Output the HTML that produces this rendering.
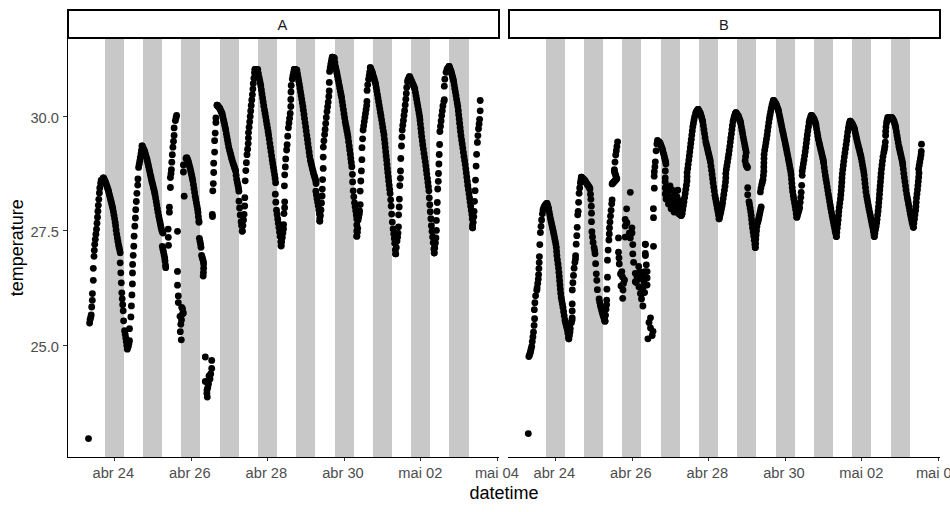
<!DOCTYPE html><html><head><meta charset="utf-8"><style>html,body{margin:0;padding:0;background:#fff}svg{display:block}text{font-family:"Liberation Sans",sans-serif}</style></head><body>
<svg width="950" height="512" viewBox="0 0 950 512">
<rect width="950" height="512" fill="#fff"/>
<g fill="#c8c8c8" shape-rendering="crispEdges">
<rect x="105" y="38" width="19" height="419"/>
<rect x="143" y="38" width="19" height="419"/>
<rect x="181" y="38" width="19" height="419"/>
<rect x="220" y="38" width="19" height="419"/>
<rect x="258" y="38" width="19" height="419"/>
<rect x="296" y="38" width="19" height="419"/>
<rect x="335" y="38" width="19" height="419"/>
<rect x="373" y="38" width="19" height="419"/>
<rect x="411" y="38" width="19" height="419"/>
<rect x="449" y="38" width="20" height="419"/>
<rect x="546" y="38" width="19" height="419"/>
<rect x="584" y="38" width="19" height="419"/>
<rect x="622" y="38" width="19" height="419"/>
<rect x="661" y="38" width="19" height="419"/>
<rect x="699" y="38" width="19" height="419"/>
<rect x="737" y="38" width="19" height="419"/>
<rect x="776" y="38" width="19" height="419"/>
<rect x="814" y="38" width="19" height="419"/>
<rect x="852" y="38" width="19" height="419"/>
<rect x="891" y="38" width="19" height="419"/>
</g>
<g fill="#000">
<circle cx="88.5" cy="438.6" r="3.42"/>
<circle cx="177.5" cy="231.3" r="3.42"/>
<circle cx="177.5" cy="271.4" r="3.42"/>
<circle cx="177.5" cy="285.2" r="3.42"/>
<circle cx="178.3" cy="296.0" r="3.42"/>
<circle cx="178.3" cy="302.6" r="3.42"/>
<circle cx="181.7" cy="307.3" r="3.42"/>
<circle cx="182.5" cy="308.7" r="3.42"/>
<circle cx="183.4" cy="312.9" r="3.42"/>
<circle cx="182.5" cy="314.0" r="3.42"/>
<circle cx="180.0" cy="316.3" r="3.42"/>
<circle cx="181.5" cy="320.0" r="3.42"/>
<circle cx="180.8" cy="324.3" r="3.42"/>
<circle cx="180.3" cy="331.7" r="3.42"/>
<circle cx="181.3" cy="339.8" r="3.42"/>
<circle cx="184.2" cy="196.2" r="3.42"/>
<circle cx="205.3" cy="357.0" r="3.42"/>
<circle cx="211.7" cy="360.4" r="3.42"/>
<circle cx="211.7" cy="368.5" r="3.42"/>
<circle cx="210.7" cy="373.9" r="3.42"/>
<circle cx="210.0" cy="378.9" r="3.42"/>
<circle cx="205.3" cy="381.5" r="3.42"/>
<circle cx="207.8" cy="387.4" r="3.42"/>
<circle cx="206.9" cy="393.3" r="3.42"/>
<circle cx="207.3" cy="397.1" r="3.42"/>
<circle cx="209.0" cy="376.0" r="3.42"/>
<circle cx="208.5" cy="384.0" r="3.42"/>
<circle cx="207.0" cy="390.0" r="3.42"/>
<circle cx="212.3" cy="214.4" r="3.42"/>
<circle cx="212.5" cy="216.5" r="3.42"/>
<circle cx="213.7" cy="172.5" r="3.42"/>
<circle cx="213.7" cy="163.2" r="3.42"/>
<circle cx="214.6" cy="152.1" r="3.42"/>
<circle cx="214.6" cy="140.7" r="3.42"/>
<circle cx="215.2" cy="133.1" r="3.42"/>
<circle cx="215.9" cy="122.5" r="3.42"/>
<circle cx="215.9" cy="118.0" r="3.42"/>
<circle cx="217.1" cy="105.2" r="3.42"/>
<circle cx="89.6" cy="323.1" r="3.42"/>
<circle cx="90.1" cy="319.6" r="3.42"/>
<circle cx="90.7" cy="317.3" r="3.42"/>
<circle cx="91.2" cy="315.0" r="3.42"/>
<circle cx="91.7" cy="307.0" r="3.42"/>
<circle cx="92.3" cy="300.3" r="3.42"/>
<circle cx="92.4" cy="293.6" r="3.42"/>
<circle cx="93.3" cy="280.3" r="3.42"/>
<circle cx="93.3" cy="268.3" r="3.42"/>
<circle cx="94.0" cy="256.3" r="3.42"/>
<circle cx="94.3" cy="250.3" r="3.42"/>
<circle cx="94.7" cy="244.3" r="3.42"/>
<circle cx="95.3" cy="239.3" r="3.42"/>
<circle cx="95.9" cy="234.2" r="3.42"/>
<circle cx="96.5" cy="229.2" r="3.42"/>
<circle cx="97.0" cy="223.2" r="3.42"/>
<circle cx="97.5" cy="217.2" r="3.42"/>
<circle cx="97.9" cy="211.2" r="3.42"/>
<circle cx="98.3" cy="205.3" r="3.42"/>
<circle cx="98.8" cy="199.3" r="3.42"/>
<circle cx="99.4" cy="193.0" r="3.42"/>
<circle cx="99.8" cy="188.0" r="3.42"/>
<circle cx="100.6" cy="183.1" r="3.42"/>
<circle cx="101.2" cy="180.1" r="3.42"/>
<circle cx="103.4" cy="177.9" r="3.42"/>
<circle cx="103.4" cy="177.9" r="3.42"/>
<circle cx="104.0" cy="179.1" r="3.42"/>
<circle cx="104.6" cy="180.2" r="3.42"/>
<circle cx="105.2" cy="181.4" r="3.42"/>
<circle cx="105.7" cy="182.6" r="3.42"/>
<circle cx="106.3" cy="184.4" r="3.42"/>
<circle cx="106.9" cy="186.1" r="3.42"/>
<circle cx="107.5" cy="187.9" r="3.42"/>
<circle cx="108.1" cy="189.7" r="3.42"/>
<circle cx="108.6" cy="191.4" r="3.42"/>
<circle cx="109.2" cy="193.9" r="3.42"/>
<circle cx="109.8" cy="196.3" r="3.42"/>
<circle cx="110.4" cy="198.7" r="3.42"/>
<circle cx="111.0" cy="201.1" r="3.42"/>
<circle cx="111.6" cy="203.5" r="3.42"/>
<circle cx="112.2" cy="205.9" r="3.42"/>
<circle cx="112.8" cy="208.4" r="3.42"/>
<circle cx="113.4" cy="211.8" r="3.42"/>
<circle cx="114.0" cy="215.3" r="3.42"/>
<circle cx="114.6" cy="218.8" r="3.42"/>
<circle cx="115.2" cy="222.3" r="3.42"/>
<circle cx="115.6" cy="225.8" r="3.42"/>
<circle cx="116.1" cy="230.0" r="3.42"/>
<circle cx="116.7" cy="234.1" r="3.42"/>
<circle cx="117.3" cy="237.7" r="3.42"/>
<circle cx="117.9" cy="241.2" r="3.42"/>
<circle cx="118.5" cy="244.7" r="3.42"/>
<circle cx="119.1" cy="247.4" r="3.42"/>
<circle cx="119.7" cy="250.1" r="3.42"/>
<circle cx="120.2" cy="252.8" r="3.42"/>
<circle cx="120.2" cy="262.8" r="3.42"/>
<circle cx="120.8" cy="272.8" r="3.42"/>
<circle cx="121.3" cy="282.8" r="3.42"/>
<circle cx="121.8" cy="292.8" r="3.42"/>
<circle cx="122.2" cy="298.8" r="3.42"/>
<circle cx="122.7" cy="304.7" r="3.42"/>
<circle cx="123.2" cy="310.8" r="3.42"/>
<circle cx="123.6" cy="320.8" r="3.42"/>
<circle cx="124.6" cy="330.7" r="3.42"/>
<circle cx="125.2" cy="334.3" r="3.42"/>
<circle cx="125.8" cy="337.9" r="3.42"/>
<circle cx="126.3" cy="341.4" r="3.42"/>
<circle cx="126.8" cy="345.4" r="3.42"/>
<circle cx="127.3" cy="349.2" r="3.42"/>
<circle cx="128.3" cy="346.6" r="3.42"/>
<circle cx="128.9" cy="343.6" r="3.42"/>
<circle cx="129.5" cy="340.7" r="3.42"/>
<circle cx="129.5" cy="328.7" r="3.42"/>
<circle cx="130.9" cy="316.9" r="3.42"/>
<circle cx="131.4" cy="305.9" r="3.42"/>
<circle cx="131.9" cy="294.9" r="3.42"/>
<circle cx="132.4" cy="283.9" r="3.42"/>
<circle cx="132.5" cy="272.9" r="3.42"/>
<circle cx="132.6" cy="264.4" r="3.42"/>
<circle cx="133.2" cy="255.3" r="3.42"/>
<circle cx="133.8" cy="246.2" r="3.42"/>
<circle cx="134.1" cy="236.2" r="3.42"/>
<circle cx="134.8" cy="226.2" r="3.42"/>
<circle cx="135.4" cy="218.0" r="3.42"/>
<circle cx="135.7" cy="209.7" r="3.42"/>
<circle cx="136.3" cy="201.5" r="3.42"/>
<circle cx="136.9" cy="193.3" r="3.42"/>
<circle cx="137.7" cy="185.1" r="3.42"/>
<circle cx="137.9" cy="178.9" r="3.42"/>
<circle cx="138.6" cy="167.4" r="3.42"/>
<circle cx="139.2" cy="164.2" r="3.42"/>
<circle cx="139.8" cy="160.9" r="3.42"/>
<circle cx="140.4" cy="157.3" r="3.42"/>
<circle cx="141.0" cy="153.8" r="3.42"/>
<circle cx="141.5" cy="150.2" r="3.42"/>
<circle cx="142.1" cy="145.9" r="3.42"/>
<circle cx="142.1" cy="145.9" r="3.42"/>
<circle cx="142.7" cy="147.2" r="3.42"/>
<circle cx="143.3" cy="148.4" r="3.42"/>
<circle cx="143.9" cy="149.7" r="3.42"/>
<circle cx="144.5" cy="151.0" r="3.42"/>
<circle cx="144.9" cy="152.4" r="3.42"/>
<circle cx="145.5" cy="154.4" r="3.42"/>
<circle cx="146.1" cy="156.4" r="3.42"/>
<circle cx="146.7" cy="158.5" r="3.42"/>
<circle cx="147.3" cy="160.5" r="3.42"/>
<circle cx="147.9" cy="163.3" r="3.42"/>
<circle cx="148.5" cy="166.0" r="3.42"/>
<circle cx="149.1" cy="168.8" r="3.42"/>
<circle cx="149.7" cy="171.5" r="3.42"/>
<circle cx="150.3" cy="174.3" r="3.42"/>
<circle cx="150.9" cy="177.0" r="3.42"/>
<circle cx="151.5" cy="179.7" r="3.42"/>
<circle cx="152.1" cy="182.2" r="3.42"/>
<circle cx="152.7" cy="184.6" r="3.42"/>
<circle cx="153.3" cy="187.0" r="3.42"/>
<circle cx="153.9" cy="189.5" r="3.42"/>
<circle cx="154.5" cy="191.9" r="3.42"/>
<circle cx="155.0" cy="194.4" r="3.42"/>
<circle cx="155.6" cy="198.0" r="3.42"/>
<circle cx="156.2" cy="201.5" r="3.42"/>
<circle cx="156.8" cy="205.1" r="3.42"/>
<circle cx="157.4" cy="208.7" r="3.42"/>
<circle cx="158.0" cy="212.3" r="3.42"/>
<circle cx="158.7" cy="215.9" r="3.42"/>
<circle cx="159.3" cy="218.8" r="3.42"/>
<circle cx="159.9" cy="221.8" r="3.42"/>
<circle cx="160.5" cy="224.7" r="3.42"/>
<circle cx="161.1" cy="227.7" r="3.42"/>
<circle cx="161.8" cy="230.6" r="3.42"/>
<circle cx="162.4" cy="231.9" r="3.42"/>
<circle cx="163.0" cy="233.0" r="3.42"/>
<circle cx="162.3" cy="246.3" r="3.42"/>
<circle cx="162.9" cy="249.2" r="3.42"/>
<circle cx="163.5" cy="252.0" r="3.42"/>
<circle cx="164.1" cy="255.0" r="3.42"/>
<circle cx="164.7" cy="258.0" r="3.42"/>
<circle cx="165.0" cy="261.0" r="3.42"/>
<circle cx="165.5" cy="265.2" r="3.42"/>
<circle cx="165.7" cy="267.7" r="3.42"/>
<circle cx="168.5" cy="245.3" r="3.42"/>
<circle cx="168.3" cy="237.3" r="3.42"/>
<circle cx="168.2" cy="229.1" r="3.42"/>
<circle cx="169.4" cy="212.2" r="3.42"/>
<circle cx="169.4" cy="207.2" r="3.42"/>
<circle cx="170.4" cy="187.5" r="3.42"/>
<circle cx="170.4" cy="177.5" r="3.42"/>
<circle cx="171.0" cy="173.6" r="3.42"/>
<circle cx="171.4" cy="169.7" r="3.42"/>
<circle cx="171.8" cy="162.2" r="3.42"/>
<circle cx="172.3" cy="154.7" r="3.42"/>
<circle cx="172.9" cy="147.2" r="3.42"/>
<circle cx="173.5" cy="141.3" r="3.42"/>
<circle cx="174.1" cy="135.4" r="3.42"/>
<circle cx="174.1" cy="127.9" r="3.42"/>
<circle cx="175.4" cy="120.6" r="3.42"/>
<circle cx="176.1" cy="117.5" r="3.42"/>
<circle cx="176.6" cy="115.3" r="3.42"/>
<circle cx="183.4" cy="172.0" r="3.42"/>
<circle cx="183.4" cy="165.0" r="3.42"/>
<circle cx="186.0" cy="158.5" r="3.42"/>
<circle cx="186.6" cy="157.6" r="3.42"/>
<circle cx="187.0" cy="158.2" r="3.42"/>
<circle cx="187.6" cy="159.7" r="3.42"/>
<circle cx="188.2" cy="161.2" r="3.42"/>
<circle cx="188.7" cy="162.8" r="3.42"/>
<circle cx="189.3" cy="165.2" r="3.42"/>
<circle cx="189.9" cy="167.6" r="3.42"/>
<circle cx="190.5" cy="170.0" r="3.42"/>
<circle cx="191.1" cy="172.7" r="3.42"/>
<circle cx="191.7" cy="175.4" r="3.42"/>
<circle cx="192.3" cy="178.1" r="3.42"/>
<circle cx="192.8" cy="180.8" r="3.42"/>
<circle cx="193.4" cy="184.6" r="3.42"/>
<circle cx="194.0" cy="188.5" r="3.42"/>
<circle cx="194.6" cy="192.4" r="3.42"/>
<circle cx="195.2" cy="196.3" r="3.42"/>
<circle cx="195.8" cy="199.5" r="3.42"/>
<circle cx="196.4" cy="202.8" r="3.42"/>
<circle cx="197.0" cy="206.0" r="3.42"/>
<circle cx="197.6" cy="209.2" r="3.42"/>
<circle cx="198.0" cy="212.5" r="3.42"/>
<circle cx="198.4" cy="216.7" r="3.42"/>
<circle cx="198.9" cy="220.9" r="3.42"/>
<circle cx="199.0" cy="222.3" r="3.42"/>
<circle cx="199.4" cy="238.3" r="3.42"/>
<circle cx="200.0" cy="241.3" r="3.42"/>
<circle cx="200.6" cy="244.3" r="3.42"/>
<circle cx="201.0" cy="247.3" r="3.42"/>
<circle cx="201.6" cy="255.3" r="3.42"/>
<circle cx="202.2" cy="257.4" r="3.42"/>
<circle cx="202.8" cy="259.6" r="3.42"/>
<circle cx="203.4" cy="261.8" r="3.42"/>
<circle cx="203.6" cy="264.0" r="3.42"/>
<circle cx="203.6" cy="268.2" r="3.42"/>
<circle cx="203.4" cy="272.4" r="3.42"/>
<circle cx="203.2" cy="276.1" r="3.42"/>
<circle cx="213.3" cy="183.6" r="3.42"/>
<circle cx="212.8" cy="190.8" r="3.42"/>
<circle cx="217.1" cy="105.2" r="3.42"/>
<circle cx="217.7" cy="105.9" r="3.42"/>
<circle cx="218.3" cy="106.6" r="3.42"/>
<circle cx="218.9" cy="107.3" r="3.42"/>
<circle cx="219.5" cy="108.0" r="3.42"/>
<circle cx="219.9" cy="108.8" r="3.42"/>
<circle cx="220.5" cy="110.1" r="3.42"/>
<circle cx="221.1" cy="111.4" r="3.42"/>
<circle cx="221.7" cy="112.7" r="3.42"/>
<circle cx="222.2" cy="114.0" r="3.42"/>
<circle cx="222.8" cy="116.7" r="3.42"/>
<circle cx="223.4" cy="119.4" r="3.42"/>
<circle cx="224.0" cy="122.0" r="3.42"/>
<circle cx="224.6" cy="124.7" r="3.42"/>
<circle cx="225.2" cy="127.4" r="3.42"/>
<circle cx="225.7" cy="130.0" r="3.42"/>
<circle cx="226.3" cy="133.4" r="3.42"/>
<circle cx="226.9" cy="136.8" r="3.42"/>
<circle cx="227.5" cy="140.2" r="3.42"/>
<circle cx="228.1" cy="143.6" r="3.42"/>
<circle cx="228.7" cy="146.9" r="3.42"/>
<circle cx="229.6" cy="150.3" r="3.42"/>
<circle cx="230.2" cy="152.6" r="3.42"/>
<circle cx="230.8" cy="155.0" r="3.42"/>
<circle cx="231.4" cy="157.4" r="3.42"/>
<circle cx="232.0" cy="159.7" r="3.42"/>
<circle cx="232.7" cy="162.1" r="3.42"/>
<circle cx="233.3" cy="163.9" r="3.42"/>
<circle cx="233.9" cy="165.6" r="3.42"/>
<circle cx="234.5" cy="167.4" r="3.42"/>
<circle cx="235.1" cy="169.2" r="3.42"/>
<circle cx="235.6" cy="171.0" r="3.42"/>
<circle cx="236.1" cy="175.2" r="3.42"/>
<circle cx="236.7" cy="179.3" r="3.42"/>
<circle cx="237.3" cy="182.3" r="3.42"/>
<circle cx="237.9" cy="185.2" r="3.42"/>
<circle cx="238.5" cy="188.2" r="3.42"/>
<circle cx="238.9" cy="191.2" r="3.42"/>
<circle cx="239.0" cy="201.2" r="3.42"/>
<circle cx="239.6" cy="208.0" r="3.42"/>
<circle cx="240.2" cy="214.9" r="3.42"/>
<circle cx="241.1" cy="221.7" r="3.42"/>
<circle cx="241.6" cy="225.5" r="3.42"/>
<circle cx="242.2" cy="231.0" r="3.42"/>
<circle cx="242.3" cy="231.2" r="3.42"/>
<circle cx="242.9" cy="225.6" r="3.42"/>
<circle cx="243.5" cy="219.9" r="3.42"/>
<circle cx="244.1" cy="214.3" r="3.42"/>
<circle cx="244.7" cy="206.0" r="3.42"/>
<circle cx="244.8" cy="197.7" r="3.42"/>
<circle cx="245.2" cy="180.8" r="3.42"/>
<circle cx="245.8" cy="170.6" r="3.42"/>
<circle cx="246.4" cy="162.7" r="3.42"/>
<circle cx="247.0" cy="154.7" r="3.42"/>
<circle cx="247.6" cy="149.2" r="3.42"/>
<circle cx="248.2" cy="143.6" r="3.42"/>
<circle cx="248.4" cy="138.1" r="3.42"/>
<circle cx="248.5" cy="132.6" r="3.42"/>
<circle cx="249.1" cy="127.2" r="3.42"/>
<circle cx="249.7" cy="121.8" r="3.42"/>
<circle cx="250.2" cy="116.4" r="3.42"/>
<circle cx="250.7" cy="111.0" r="3.42"/>
<circle cx="251.2" cy="105.5" r="3.42"/>
<circle cx="251.8" cy="100.0" r="3.42"/>
<circle cx="252.4" cy="94.6" r="3.42"/>
<circle cx="252.9" cy="89.1" r="3.42"/>
<circle cx="253.3" cy="83.6" r="3.42"/>
<circle cx="253.9" cy="78.2" r="3.42"/>
<circle cx="254.5" cy="72.7" r="3.42"/>
<circle cx="255.0" cy="69.3" r="3.42"/>
<circle cx="255.0" cy="69.3" r="3.42"/>
<circle cx="255.6" cy="69.3" r="3.42"/>
<circle cx="256.2" cy="69.4" r="3.42"/>
<circle cx="256.8" cy="69.4" r="3.42"/>
<circle cx="257.4" cy="69.5" r="3.42"/>
<circle cx="257.8" cy="69.7" r="3.42"/>
<circle cx="258.4" cy="73.6" r="3.42"/>
<circle cx="259.1" cy="77.5" r="3.42"/>
<circle cx="259.7" cy="80.3" r="3.42"/>
<circle cx="260.3" cy="83.1" r="3.42"/>
<circle cx="260.8" cy="86.0" r="3.42"/>
<circle cx="261.4" cy="90.0" r="3.42"/>
<circle cx="262.0" cy="94.0" r="3.42"/>
<circle cx="262.6" cy="98.0" r="3.42"/>
<circle cx="263.2" cy="102.0" r="3.42"/>
<circle cx="263.8" cy="106.0" r="3.42"/>
<circle cx="264.5" cy="110.0" r="3.42"/>
<circle cx="265.1" cy="113.5" r="3.42"/>
<circle cx="265.7" cy="117.1" r="3.42"/>
<circle cx="266.3" cy="120.7" r="3.42"/>
<circle cx="266.9" cy="124.3" r="3.42"/>
<circle cx="267.5" cy="127.8" r="3.42"/>
<circle cx="268.1" cy="131.4" r="3.42"/>
<circle cx="268.6" cy="135.0" r="3.42"/>
<circle cx="269.2" cy="139.1" r="3.42"/>
<circle cx="269.8" cy="143.3" r="3.42"/>
<circle cx="270.4" cy="147.5" r="3.42"/>
<circle cx="271.0" cy="151.6" r="3.42"/>
<circle cx="271.6" cy="155.8" r="3.42"/>
<circle cx="272.2" cy="159.9" r="3.42"/>
<circle cx="272.8" cy="163.7" r="3.42"/>
<circle cx="273.4" cy="167.4" r="3.42"/>
<circle cx="274.0" cy="171.1" r="3.42"/>
<circle cx="274.6" cy="174.8" r="3.42"/>
<circle cx="275.1" cy="178.5" r="3.42"/>
<circle cx="275.6" cy="182.7" r="3.42"/>
<circle cx="275.3" cy="194.2" r="3.42"/>
<circle cx="275.8" cy="202.2" r="3.42"/>
<circle cx="276.5" cy="210.2" r="3.42"/>
<circle cx="277.1" cy="214.5" r="3.42"/>
<circle cx="277.7" cy="218.9" r="3.42"/>
<circle cx="278.3" cy="223.2" r="3.42"/>
<circle cx="278.9" cy="227.6" r="3.42"/>
<circle cx="279.5" cy="232.1" r="3.42"/>
<circle cx="280.1" cy="236.6" r="3.42"/>
<circle cx="280.7" cy="241.8" r="3.42"/>
<circle cx="281.1" cy="245.6" r="3.42"/>
<circle cx="281.1" cy="246.0" r="3.42"/>
<circle cx="281.7" cy="241.7" r="3.42"/>
<circle cx="282.3" cy="237.4" r="3.42"/>
<circle cx="282.9" cy="233.1" r="3.42"/>
<circle cx="283.5" cy="228.9" r="3.42"/>
<circle cx="283.6" cy="224.6" r="3.42"/>
<circle cx="284.0" cy="213.6" r="3.42"/>
<circle cx="284.6" cy="207.7" r="3.42"/>
<circle cx="284.7" cy="201.8" r="3.42"/>
<circle cx="284.4" cy="185.8" r="3.42"/>
<circle cx="284.7" cy="174.8" r="3.42"/>
<circle cx="285.3" cy="166.9" r="3.42"/>
<circle cx="285.7" cy="158.9" r="3.42"/>
<circle cx="286.6" cy="150.0" r="3.42"/>
<circle cx="287.1" cy="144.7" r="3.42"/>
<circle cx="287.7" cy="136.2" r="3.42"/>
<circle cx="288.4" cy="127.8" r="3.42"/>
<circle cx="289.0" cy="123.0" r="3.42"/>
<circle cx="289.6" cy="118.3" r="3.42"/>
<circle cx="290.2" cy="113.5" r="3.42"/>
<circle cx="290.8" cy="106.5" r="3.42"/>
<circle cx="290.8" cy="99.5" r="3.42"/>
<circle cx="291.0" cy="92.0" r="3.42"/>
<circle cx="291.2" cy="85.5" r="3.42"/>
<circle cx="292.3" cy="79.1" r="3.42"/>
<circle cx="292.9" cy="75.7" r="3.42"/>
<circle cx="293.6" cy="72.4" r="3.42"/>
<circle cx="294.3" cy="69.3" r="3.42"/>
<circle cx="294.3" cy="69.3" r="3.42"/>
<circle cx="294.9" cy="69.5" r="3.42"/>
<circle cx="295.5" cy="69.6" r="3.42"/>
<circle cx="296.1" cy="69.8" r="3.42"/>
<circle cx="296.7" cy="70.0" r="3.42"/>
<circle cx="296.9" cy="70.5" r="3.42"/>
<circle cx="297.5" cy="74.0" r="3.42"/>
<circle cx="298.1" cy="77.5" r="3.42"/>
<circle cx="298.7" cy="80.9" r="3.42"/>
<circle cx="299.3" cy="84.2" r="3.42"/>
<circle cx="299.9" cy="87.9" r="3.42"/>
<circle cx="300.5" cy="91.7" r="3.42"/>
<circle cx="301.1" cy="95.4" r="3.42"/>
<circle cx="301.7" cy="99.1" r="3.42"/>
<circle cx="302.3" cy="102.8" r="3.42"/>
<circle cx="302.9" cy="106.6" r="3.42"/>
<circle cx="303.4" cy="110.3" r="3.42"/>
<circle cx="304.0" cy="114.5" r="3.42"/>
<circle cx="304.5" cy="118.6" r="3.42"/>
<circle cx="305.1" cy="122.8" r="3.42"/>
<circle cx="305.7" cy="127.0" r="3.42"/>
<circle cx="306.2" cy="131.1" r="3.42"/>
<circle cx="306.8" cy="135.3" r="3.42"/>
<circle cx="307.4" cy="139.4" r="3.42"/>
<circle cx="307.9" cy="143.6" r="3.42"/>
<circle cx="308.5" cy="147.8" r="3.42"/>
<circle cx="309.1" cy="151.9" r="3.42"/>
<circle cx="309.6" cy="156.1" r="3.42"/>
<circle cx="310.4" cy="160.2" r="3.42"/>
<circle cx="311.0" cy="162.7" r="3.42"/>
<circle cx="311.6" cy="165.3" r="3.42"/>
<circle cx="312.2" cy="167.8" r="3.42"/>
<circle cx="312.8" cy="170.3" r="3.42"/>
<circle cx="313.4" cy="172.9" r="3.42"/>
<circle cx="314.2" cy="175.4" r="3.42"/>
<circle cx="314.8" cy="177.4" r="3.42"/>
<circle cx="315.4" cy="179.5" r="3.42"/>
<circle cx="316.0" cy="181.5" r="3.42"/>
<circle cx="316.1" cy="183.6" r="3.42"/>
<circle cx="315.8" cy="191.1" r="3.42"/>
<circle cx="316.4" cy="194.7" r="3.42"/>
<circle cx="317.0" cy="198.4" r="3.42"/>
<circle cx="317.6" cy="202.0" r="3.42"/>
<circle cx="318.2" cy="205.7" r="3.42"/>
<circle cx="318.8" cy="209.8" r="3.42"/>
<circle cx="319.4" cy="213.9" r="3.42"/>
<circle cx="319.8" cy="218.1" r="3.42"/>
<circle cx="319.8" cy="221.1" r="3.42"/>
<circle cx="319.8" cy="221.1" r="3.42"/>
<circle cx="320.4" cy="215.5" r="3.42"/>
<circle cx="321.0" cy="210.0" r="3.42"/>
<circle cx="321.5" cy="203.0" r="3.42"/>
<circle cx="322.1" cy="196.0" r="3.42"/>
<circle cx="322.3" cy="189.1" r="3.42"/>
<circle cx="322.6" cy="179.6" r="3.42"/>
<circle cx="323.2" cy="168.4" r="3.42"/>
<circle cx="323.2" cy="157.1" r="3.42"/>
<circle cx="323.3" cy="147.1" r="3.42"/>
<circle cx="323.9" cy="140.8" r="3.42"/>
<circle cx="324.6" cy="134.6" r="3.42"/>
<circle cx="325.1" cy="129.4" r="3.42"/>
<circle cx="325.7" cy="123.4" r="3.42"/>
<circle cx="326.3" cy="117.5" r="3.42"/>
<circle cx="327.0" cy="111.6" r="3.42"/>
<circle cx="327.6" cy="106.8" r="3.42"/>
<circle cx="328.2" cy="102.1" r="3.42"/>
<circle cx="328.8" cy="96.5" r="3.42"/>
<circle cx="329.2" cy="90.9" r="3.42"/>
<circle cx="329.3" cy="82.4" r="3.42"/>
<circle cx="329.6" cy="71.4" r="3.42"/>
<circle cx="330.2" cy="67.7" r="3.42"/>
<circle cx="330.8" cy="64.1" r="3.42"/>
<circle cx="331.4" cy="61.2" r="3.42"/>
<circle cx="332.0" cy="58.4" r="3.42"/>
<circle cx="332.3" cy="57.2" r="3.42"/>
<circle cx="332.3" cy="57.2" r="3.42"/>
<circle cx="332.9" cy="57.5" r="3.42"/>
<circle cx="333.5" cy="57.7" r="3.42"/>
<circle cx="334.1" cy="58.0" r="3.42"/>
<circle cx="334.3" cy="58.5" r="3.42"/>
<circle cx="334.9" cy="62.7" r="3.42"/>
<circle cx="335.6" cy="66.8" r="3.42"/>
<circle cx="336.2" cy="69.8" r="3.42"/>
<circle cx="336.8" cy="72.7" r="3.42"/>
<circle cx="337.4" cy="75.8" r="3.42"/>
<circle cx="338.0" cy="78.9" r="3.42"/>
<circle cx="338.6" cy="82.0" r="3.42"/>
<circle cx="339.2" cy="85.1" r="3.42"/>
<circle cx="339.8" cy="88.2" r="3.42"/>
<circle cx="340.4" cy="91.3" r="3.42"/>
<circle cx="341.0" cy="94.4" r="3.42"/>
<circle cx="341.6" cy="97.5" r="3.42"/>
<circle cx="342.2" cy="101.6" r="3.42"/>
<circle cx="342.8" cy="105.6" r="3.42"/>
<circle cx="343.4" cy="109.6" r="3.42"/>
<circle cx="344.0" cy="113.7" r="3.42"/>
<circle cx="344.6" cy="117.7" r="3.42"/>
<circle cx="345.2" cy="121.7" r="3.42"/>
<circle cx="345.8" cy="124.9" r="3.42"/>
<circle cx="346.4" cy="128.0" r="3.42"/>
<circle cx="347.0" cy="131.2" r="3.42"/>
<circle cx="347.6" cy="134.4" r="3.42"/>
<circle cx="348.1" cy="137.5" r="3.42"/>
<circle cx="348.6" cy="141.7" r="3.42"/>
<circle cx="349.2" cy="145.9" r="3.42"/>
<circle cx="349.7" cy="150.0" r="3.42"/>
<circle cx="350.3" cy="154.2" r="3.42"/>
<circle cx="350.8" cy="158.4" r="3.42"/>
<circle cx="351.3" cy="162.5" r="3.42"/>
<circle cx="351.8" cy="166.7" r="3.42"/>
<circle cx="352.4" cy="174.3" r="3.42"/>
<circle cx="352.6" cy="181.9" r="3.42"/>
<circle cx="353.2" cy="190.8" r="3.42"/>
<circle cx="353.8" cy="196.8" r="3.42"/>
<circle cx="354.5" cy="202.8" r="3.42"/>
<circle cx="355.1" cy="206.8" r="3.42"/>
<circle cx="355.7" cy="210.8" r="3.42"/>
<circle cx="356.3" cy="214.9" r="3.42"/>
<circle cx="356.8" cy="218.9" r="3.42"/>
<circle cx="356.8" cy="224.9" r="3.42"/>
<circle cx="356.8" cy="230.9" r="3.42"/>
<circle cx="356.8" cy="236.2" r="3.42"/>
<circle cx="356.8" cy="236.2" r="3.42"/>
<circle cx="357.4" cy="232.3" r="3.42"/>
<circle cx="357.7" cy="228.3" r="3.42"/>
<circle cx="358.1" cy="219.9" r="3.42"/>
<circle cx="358.7" cy="216.9" r="3.42"/>
<circle cx="359.3" cy="213.9" r="3.42"/>
<circle cx="359.6" cy="210.9" r="3.42"/>
<circle cx="360.2" cy="204.6" r="3.42"/>
<circle cx="360.2" cy="191.1" r="3.42"/>
<circle cx="360.8" cy="181.0" r="3.42"/>
<circle cx="361.4" cy="170.9" r="3.42"/>
<circle cx="361.9" cy="159.7" r="3.42"/>
<circle cx="362.0" cy="147.7" r="3.42"/>
<circle cx="362.6" cy="138.8" r="3.42"/>
<circle cx="363.1" cy="130.0" r="3.42"/>
<circle cx="363.7" cy="125.8" r="3.42"/>
<circle cx="364.3" cy="121.6" r="3.42"/>
<circle cx="364.9" cy="117.5" r="3.42"/>
<circle cx="365.5" cy="113.5" r="3.42"/>
<circle cx="366.1" cy="109.4" r="3.42"/>
<circle cx="366.7" cy="105.4" r="3.42"/>
<circle cx="366.9" cy="101.3" r="3.42"/>
<circle cx="367.1" cy="90.4" r="3.42"/>
<circle cx="367.7" cy="84.8" r="3.42"/>
<circle cx="368.6" cy="79.2" r="3.42"/>
<circle cx="369.2" cy="75.6" r="3.42"/>
<circle cx="369.7" cy="72.1" r="3.42"/>
<circle cx="370.3" cy="67.7" r="3.42"/>
<circle cx="370.3" cy="67.7" r="3.42"/>
<circle cx="370.9" cy="69.1" r="3.42"/>
<circle cx="371.5" cy="70.6" r="3.42"/>
<circle cx="372.1" cy="72.0" r="3.42"/>
<circle cx="372.6" cy="73.5" r="3.42"/>
<circle cx="373.2" cy="75.6" r="3.42"/>
<circle cx="373.8" cy="77.6" r="3.42"/>
<circle cx="374.4" cy="79.7" r="3.42"/>
<circle cx="375.0" cy="81.8" r="3.42"/>
<circle cx="375.6" cy="83.9" r="3.42"/>
<circle cx="376.2" cy="87.4" r="3.42"/>
<circle cx="376.8" cy="91.0" r="3.42"/>
<circle cx="377.4" cy="94.6" r="3.42"/>
<circle cx="378.0" cy="98.1" r="3.42"/>
<circle cx="378.6" cy="101.7" r="3.42"/>
<circle cx="379.2" cy="105.2" r="3.42"/>
<circle cx="379.8" cy="108.8" r="3.42"/>
<circle cx="380.4" cy="112.4" r="3.42"/>
<circle cx="381.0" cy="115.9" r="3.42"/>
<circle cx="381.6" cy="119.8" r="3.42"/>
<circle cx="382.2" cy="123.6" r="3.42"/>
<circle cx="382.8" cy="127.4" r="3.42"/>
<circle cx="383.4" cy="131.2" r="3.42"/>
<circle cx="384.0" cy="135.0" r="3.42"/>
<circle cx="384.4" cy="139.2" r="3.42"/>
<circle cx="384.9" cy="143.4" r="3.42"/>
<circle cx="385.3" cy="147.6" r="3.42"/>
<circle cx="385.7" cy="151.8" r="3.42"/>
<circle cx="386.1" cy="155.9" r="3.42"/>
<circle cx="386.6" cy="160.1" r="3.42"/>
<circle cx="387.0" cy="164.3" r="3.42"/>
<circle cx="387.4" cy="168.5" r="3.42"/>
<circle cx="387.8" cy="172.6" r="3.42"/>
<circle cx="388.3" cy="176.8" r="3.42"/>
<circle cx="388.7" cy="181.0" r="3.42"/>
<circle cx="389.2" cy="185.2" r="3.42"/>
<circle cx="389.7" cy="189.3" r="3.42"/>
<circle cx="390.1" cy="193.5" r="3.42"/>
<circle cx="390.7" cy="199.8" r="3.42"/>
<circle cx="391.2" cy="206.1" r="3.42"/>
<circle cx="391.7" cy="214.1" r="3.42"/>
<circle cx="392.3" cy="222.1" r="3.42"/>
<circle cx="393.1" cy="229.0" r="3.42"/>
<circle cx="393.7" cy="233.8" r="3.42"/>
<circle cx="394.3" cy="238.5" r="3.42"/>
<circle cx="394.7" cy="243.3" r="3.42"/>
<circle cx="395.3" cy="249.8" r="3.42"/>
<circle cx="395.7" cy="253.9" r="3.42"/>
<circle cx="395.7" cy="253.9" r="3.42"/>
<circle cx="396.3" cy="247.5" r="3.42"/>
<circle cx="397.0" cy="241.0" r="3.42"/>
<circle cx="397.6" cy="237.1" r="3.42"/>
<circle cx="398.0" cy="233.1" r="3.42"/>
<circle cx="398.5" cy="226.8" r="3.42"/>
<circle cx="398.6" cy="214.8" r="3.42"/>
<circle cx="399.2" cy="207.0" r="3.42"/>
<circle cx="399.4" cy="199.1" r="3.42"/>
<circle cx="399.8" cy="185.6" r="3.42"/>
<circle cx="400.4" cy="178.3" r="3.42"/>
<circle cx="400.5" cy="171.0" r="3.42"/>
<circle cx="400.8" cy="158.5" r="3.42"/>
<circle cx="401.5" cy="146.0" r="3.42"/>
<circle cx="401.9" cy="137.1" r="3.42"/>
<circle cx="402.2" cy="130.1" r="3.42"/>
<circle cx="402.8" cy="125.2" r="3.42"/>
<circle cx="403.4" cy="120.4" r="3.42"/>
<circle cx="404.0" cy="115.5" r="3.42"/>
<circle cx="404.6" cy="110.7" r="3.42"/>
<circle cx="405.2" cy="104.9" r="3.42"/>
<circle cx="405.8" cy="99.2" r="3.42"/>
<circle cx="406.3" cy="93.5" r="3.42"/>
<circle cx="406.7" cy="87.5" r="3.42"/>
<circle cx="407.5" cy="81.6" r="3.42"/>
<circle cx="408.1" cy="79.2" r="3.42"/>
<circle cx="409.5" cy="76.6" r="3.42"/>
<circle cx="409.5" cy="76.6" r="3.42"/>
<circle cx="410.1" cy="77.9" r="3.42"/>
<circle cx="410.7" cy="79.2" r="3.42"/>
<circle cx="411.3" cy="80.6" r="3.42"/>
<circle cx="411.9" cy="81.9" r="3.42"/>
<circle cx="412.5" cy="83.3" r="3.42"/>
<circle cx="413.1" cy="84.7" r="3.42"/>
<circle cx="413.7" cy="86.1" r="3.42"/>
<circle cx="414.3" cy="87.5" r="3.42"/>
<circle cx="414.8" cy="88.9" r="3.42"/>
<circle cx="415.4" cy="92.3" r="3.42"/>
<circle cx="416.0" cy="95.8" r="3.42"/>
<circle cx="416.6" cy="99.2" r="3.42"/>
<circle cx="417.2" cy="102.7" r="3.42"/>
<circle cx="417.8" cy="106.1" r="3.42"/>
<circle cx="418.4" cy="109.6" r="3.42"/>
<circle cx="419.0" cy="113.0" r="3.42"/>
<circle cx="419.6" cy="116.5" r="3.42"/>
<circle cx="420.0" cy="119.9" r="3.42"/>
<circle cx="420.4" cy="124.1" r="3.42"/>
<circle cx="420.9" cy="128.3" r="3.42"/>
<circle cx="421.3" cy="132.5" r="3.42"/>
<circle cx="421.7" cy="136.6" r="3.42"/>
<circle cx="422.3" cy="140.8" r="3.42"/>
<circle cx="422.8" cy="145.0" r="3.42"/>
<circle cx="423.4" cy="149.1" r="3.42"/>
<circle cx="424.0" cy="153.3" r="3.42"/>
<circle cx="424.6" cy="157.4" r="3.42"/>
<circle cx="425.2" cy="161.6" r="3.42"/>
<circle cx="425.8" cy="165.8" r="3.42"/>
<circle cx="426.3" cy="169.9" r="3.42"/>
<circle cx="426.8" cy="174.1" r="3.42"/>
<circle cx="427.4" cy="178.3" r="3.42"/>
<circle cx="427.9" cy="182.4" r="3.42"/>
<circle cx="428.4" cy="186.6" r="3.42"/>
<circle cx="428.9" cy="190.8" r="3.42"/>
<circle cx="429.3" cy="197.8" r="3.42"/>
<circle cx="429.8" cy="204.7" r="3.42"/>
<circle cx="430.3" cy="211.7" r="3.42"/>
<circle cx="430.9" cy="218.7" r="3.42"/>
<circle cx="431.4" cy="225.7" r="3.42"/>
<circle cx="432.0" cy="231.3" r="3.42"/>
<circle cx="432.6" cy="237.0" r="3.42"/>
<circle cx="433.2" cy="242.7" r="3.42"/>
<circle cx="433.8" cy="249.0" r="3.42"/>
<circle cx="434.2" cy="253.0" r="3.42"/>
<circle cx="434.2" cy="253.0" r="3.42"/>
<circle cx="434.8" cy="248.0" r="3.42"/>
<circle cx="435.4" cy="243.0" r="3.42"/>
<circle cx="435.9" cy="237.9" r="3.42"/>
<circle cx="436.4" cy="230.4" r="3.42"/>
<circle cx="436.4" cy="220.4" r="3.42"/>
<circle cx="437.0" cy="211.4" r="3.42"/>
<circle cx="437.3" cy="202.5" r="3.42"/>
<circle cx="437.7" cy="189.0" r="3.42"/>
<circle cx="438.3" cy="181.3" r="3.42"/>
<circle cx="438.5" cy="173.5" r="3.42"/>
<circle cx="438.9" cy="164.0" r="3.42"/>
<circle cx="439.2" cy="154.5" r="3.42"/>
<circle cx="439.6" cy="144.5" r="3.42"/>
<circle cx="439.9" cy="131.5" r="3.42"/>
<circle cx="440.5" cy="126.2" r="3.42"/>
<circle cx="441.1" cy="120.9" r="3.42"/>
<circle cx="441.7" cy="115.6" r="3.42"/>
<circle cx="442.3" cy="110.8" r="3.42"/>
<circle cx="442.9" cy="106.0" r="3.42"/>
<circle cx="443.9" cy="101.3" r="3.42"/>
<circle cx="444.3" cy="99.7" r="3.42"/>
<circle cx="444.3" cy="86.2" r="3.42"/>
<circle cx="444.8" cy="79.2" r="3.42"/>
<circle cx="446.1" cy="72.3" r="3.42"/>
<circle cx="447.0" cy="69.5" r="3.42"/>
<circle cx="447.6" cy="68.7" r="3.42"/>
<circle cx="448.2" cy="67.8" r="3.42"/>
<circle cx="448.8" cy="67.0" r="3.42"/>
<circle cx="449.1" cy="66.5" r="3.42"/>
<circle cx="449.1" cy="66.5" r="3.42"/>
<circle cx="449.7" cy="67.9" r="3.42"/>
<circle cx="450.3" cy="69.3" r="3.42"/>
<circle cx="450.9" cy="70.8" r="3.42"/>
<circle cx="451.3" cy="72.2" r="3.42"/>
<circle cx="451.9" cy="74.5" r="3.42"/>
<circle cx="452.5" cy="76.7" r="3.42"/>
<circle cx="453.1" cy="78.9" r="3.42"/>
<circle cx="453.6" cy="81.2" r="3.42"/>
<circle cx="454.2" cy="84.8" r="3.42"/>
<circle cx="454.8" cy="88.4" r="3.42"/>
<circle cx="455.4" cy="92.0" r="3.42"/>
<circle cx="456.0" cy="95.6" r="3.42"/>
<circle cx="456.6" cy="99.3" r="3.42"/>
<circle cx="457.2" cy="102.9" r="3.42"/>
<circle cx="457.8" cy="106.5" r="3.42"/>
<circle cx="458.3" cy="110.7" r="3.42"/>
<circle cx="458.7" cy="114.8" r="3.42"/>
<circle cx="459.2" cy="119.0" r="3.42"/>
<circle cx="459.6" cy="123.2" r="3.42"/>
<circle cx="460.1" cy="127.4" r="3.42"/>
<circle cx="460.5" cy="131.5" r="3.42"/>
<circle cx="461.0" cy="135.7" r="3.42"/>
<circle cx="461.6" cy="139.9" r="3.42"/>
<circle cx="462.2" cy="144.0" r="3.42"/>
<circle cx="462.8" cy="148.1" r="3.42"/>
<circle cx="463.4" cy="152.3" r="3.42"/>
<circle cx="464.0" cy="156.4" r="3.42"/>
<circle cx="464.6" cy="160.5" r="3.42"/>
<circle cx="465.2" cy="164.6" r="3.42"/>
<circle cx="465.8" cy="168.8" r="3.42"/>
<circle cx="466.3" cy="172.9" r="3.42"/>
<circle cx="466.8" cy="177.1" r="3.42"/>
<circle cx="467.3" cy="181.2" r="3.42"/>
<circle cx="467.8" cy="185.4" r="3.42"/>
<circle cx="468.4" cy="189.6" r="3.42"/>
<circle cx="469.0" cy="193.7" r="3.42"/>
<circle cx="469.6" cy="197.9" r="3.42"/>
<circle cx="470.1" cy="202.0" r="3.42"/>
<circle cx="470.7" cy="206.2" r="3.42"/>
<circle cx="471.3" cy="210.4" r="3.42"/>
<circle cx="471.9" cy="214.6" r="3.42"/>
<circle cx="472.2" cy="218.9" r="3.42"/>
<circle cx="472.5" cy="224.9" r="3.42"/>
<circle cx="472.6" cy="227.8" r="3.42"/>
<circle cx="472.6" cy="227.8" r="3.42"/>
<circle cx="473.2" cy="222.3" r="3.42"/>
<circle cx="473.8" cy="216.8" r="3.42"/>
<circle cx="474.1" cy="211.3" r="3.42"/>
<circle cx="474.5" cy="201.3" r="3.42"/>
<circle cx="475.1" cy="190.7" r="3.42"/>
<circle cx="475.5" cy="180.1" r="3.42"/>
<circle cx="476.1" cy="166.1" r="3.42"/>
<circle cx="476.6" cy="154.3" r="3.42"/>
<circle cx="477.4" cy="142.4" r="3.42"/>
<circle cx="477.9" cy="135.6" r="3.42"/>
<circle cx="478.5" cy="128.7" r="3.42"/>
<circle cx="479.1" cy="124.0" r="3.42"/>
<circle cx="479.6" cy="119.3" r="3.42"/>
<circle cx="480.2" cy="110.8" r="3.42"/>
<circle cx="480.2" cy="100.5" r="3.42"/>
<circle cx="528.3" cy="433.6" r="3.42"/>
<circle cx="630.3" cy="192.3" r="3.42"/>
<circle cx="626.6" cy="208.8" r="3.42"/>
<circle cx="618.5" cy="237.9" r="3.42"/>
<circle cx="618.5" cy="252.2" r="3.42"/>
<circle cx="619.0" cy="258.0" r="3.42"/>
<circle cx="619.3" cy="264.0" r="3.42"/>
<circle cx="621.8" cy="271.6" r="3.42"/>
<circle cx="622.5" cy="277.0" r="3.42"/>
<circle cx="623.5" cy="283.4" r="3.42"/>
<circle cx="623.0" cy="290.0" r="3.42"/>
<circle cx="622.7" cy="298.3" r="3.42"/>
<circle cx="625.2" cy="219.4" r="3.42"/>
<circle cx="625.2" cy="226.1" r="3.42"/>
<circle cx="631.9" cy="227.8" r="3.42"/>
<circle cx="632.0" cy="233.0" r="3.42"/>
<circle cx="625.2" cy="237.1" r="3.42"/>
<circle cx="628.5" cy="236.0" r="3.42"/>
<circle cx="632.8" cy="244.6" r="3.42"/>
<circle cx="632.8" cy="253.9" r="3.42"/>
<circle cx="633.6" cy="262.3" r="3.42"/>
<circle cx="638.7" cy="266.5" r="3.42"/>
<circle cx="635.3" cy="273.3" r="3.42"/>
<circle cx="635.3" cy="281.7" r="3.42"/>
<circle cx="637.0" cy="277.0" r="3.42"/>
<circle cx="640.4" cy="293.5" r="3.42"/>
<circle cx="642.0" cy="293.4" r="3.42"/>
<circle cx="641.5" cy="299.0" r="3.42"/>
<circle cx="642.9" cy="306.0" r="3.42"/>
<circle cx="639.0" cy="287.0" r="3.42"/>
<circle cx="645.4" cy="244.6" r="3.42"/>
<circle cx="645.4" cy="255.6" r="3.42"/>
<circle cx="646.3" cy="264.8" r="3.42"/>
<circle cx="647.1" cy="271.6" r="3.42"/>
<circle cx="647.1" cy="278.0" r="3.42"/>
<circle cx="647.1" cy="285.1" r="3.42"/>
<circle cx="644.0" cy="282.0" r="3.42"/>
<circle cx="642.0" cy="276.0" r="3.42"/>
<circle cx="653.5" cy="217.7" r="3.42"/>
<circle cx="653.5" cy="246.3" r="3.42"/>
<circle cx="645.3" cy="244.1" r="3.42"/>
<circle cx="645.3" cy="253.4" r="3.42"/>
<circle cx="653.4" cy="208.7" r="3.42"/>
<circle cx="650.5" cy="317.8" r="3.42"/>
<circle cx="649.0" cy="322.5" r="3.42"/>
<circle cx="650.5" cy="327.9" r="3.42"/>
<circle cx="653.0" cy="331.3" r="3.42"/>
<circle cx="652.2" cy="335.5" r="3.42"/>
<circle cx="647.9" cy="338.8" r="3.42"/>
<circle cx="665.2" cy="188.0" r="3.42"/>
<circle cx="667.7" cy="188.5" r="3.42"/>
<circle cx="670.0" cy="186.0" r="3.42"/>
<circle cx="665.2" cy="194.0" r="3.42"/>
<circle cx="668.0" cy="193.0" r="3.42"/>
<circle cx="672.0" cy="190.0" r="3.42"/>
<circle cx="677.8" cy="190.2" r="3.42"/>
<circle cx="675.0" cy="193.0" r="3.42"/>
<circle cx="666.0" cy="199.0" r="3.42"/>
<circle cx="669.0" cy="198.0" r="3.42"/>
<circle cx="673.0" cy="197.0" r="3.42"/>
<circle cx="677.0" cy="197.0" r="3.42"/>
<circle cx="668.5" cy="204.0" r="3.42"/>
<circle cx="672.0" cy="203.0" r="3.42"/>
<circle cx="676.0" cy="203.0" r="3.42"/>
<circle cx="680.0" cy="201.0" r="3.42"/>
<circle cx="671.1" cy="208.7" r="3.42"/>
<circle cx="674.5" cy="208.0" r="3.42"/>
<circle cx="678.0" cy="207.0" r="3.42"/>
<circle cx="674.0" cy="212.0" r="3.42"/>
<circle cx="677.5" cy="212.5" r="3.42"/>
<circle cx="681.0" cy="208.0" r="3.42"/>
<circle cx="679.0" cy="214.0" r="3.42"/>
<circle cx="681.2" cy="215.5" r="3.42"/>
<circle cx="639.5" cy="271.6" r="3.42"/>
<circle cx="644.6" cy="271.6" r="3.42"/>
<circle cx="641.2" cy="278.3" r="3.42"/>
<circle cx="636.2" cy="282.5" r="3.42"/>
<circle cx="644.6" cy="292.6" r="3.42"/>
<circle cx="626.9" cy="222.7" r="3.42"/>
<circle cx="629.4" cy="232.8" r="3.42"/>
<circle cx="630.3" cy="237.9" r="3.42"/>
<circle cx="620.5" cy="274.0" r="3.42"/>
<circle cx="624.5" cy="280.0" r="3.42"/>
<circle cx="621.0" cy="286.0" r="3.42"/>
<circle cx="643.0" cy="288.0" r="3.42"/>
<circle cx="638.0" cy="279.0" r="3.42"/>
<circle cx="528.9" cy="356.5" r="3.42"/>
<circle cx="529.5" cy="354.9" r="3.42"/>
<circle cx="530.1" cy="353.2" r="3.42"/>
<circle cx="530.5" cy="351.5" r="3.42"/>
<circle cx="531.1" cy="348.9" r="3.42"/>
<circle cx="531.7" cy="346.4" r="3.42"/>
<circle cx="532.3" cy="341.6" r="3.42"/>
<circle cx="532.9" cy="336.9" r="3.42"/>
<circle cx="533.5" cy="332.1" r="3.42"/>
<circle cx="534.1" cy="325.4" r="3.42"/>
<circle cx="534.6" cy="318.7" r="3.42"/>
<circle cx="534.3" cy="309.7" r="3.42"/>
<circle cx="534.9" cy="302.7" r="3.42"/>
<circle cx="535.6" cy="295.8" r="3.42"/>
<circle cx="536.8" cy="290.2" r="3.42"/>
<circle cx="537.1" cy="288.0" r="3.42"/>
<circle cx="537.7" cy="283.5" r="3.42"/>
<circle cx="538.3" cy="279.1" r="3.42"/>
<circle cx="538.6" cy="274.6" r="3.42"/>
<circle cx="538.9" cy="268.6" r="3.42"/>
<circle cx="539.2" cy="262.6" r="3.42"/>
<circle cx="539.4" cy="256.6" r="3.42"/>
<circle cx="539.8" cy="244.6" r="3.42"/>
<circle cx="540.4" cy="232.6" r="3.42"/>
<circle cx="541.0" cy="226.3" r="3.42"/>
<circle cx="541.6" cy="220.0" r="3.42"/>
<circle cx="542.4" cy="213.8" r="3.42"/>
<circle cx="543.0" cy="209.9" r="3.42"/>
<circle cx="543.6" cy="208.3" r="3.42"/>
<circle cx="544.2" cy="206.7" r="3.42"/>
<circle cx="545.1" cy="205.3" r="3.42"/>
<circle cx="545.7" cy="204.6" r="3.42"/>
<circle cx="546.3" cy="204.0" r="3.42"/>
<circle cx="546.9" cy="203.3" r="3.42"/>
<circle cx="546.9" cy="203.3" r="3.42"/>
<circle cx="547.5" cy="205.1" r="3.42"/>
<circle cx="548.1" cy="206.8" r="3.42"/>
<circle cx="548.6" cy="208.6" r="3.42"/>
<circle cx="549.2" cy="211.8" r="3.42"/>
<circle cx="549.8" cy="215.1" r="3.42"/>
<circle cx="550.4" cy="218.3" r="3.42"/>
<circle cx="551.0" cy="221.1" r="3.42"/>
<circle cx="551.6" cy="223.8" r="3.42"/>
<circle cx="552.2" cy="226.5" r="3.42"/>
<circle cx="552.8" cy="229.3" r="3.42"/>
<circle cx="553.4" cy="232.0" r="3.42"/>
<circle cx="554.0" cy="234.8" r="3.42"/>
<circle cx="554.6" cy="237.9" r="3.42"/>
<circle cx="555.2" cy="241.0" r="3.42"/>
<circle cx="555.8" cy="244.1" r="3.42"/>
<circle cx="556.3" cy="247.3" r="3.42"/>
<circle cx="556.6" cy="251.5" r="3.42"/>
<circle cx="556.9" cy="255.6" r="3.42"/>
<circle cx="557.4" cy="259.8" r="3.42"/>
<circle cx="558.0" cy="264.0" r="3.42"/>
<circle cx="558.5" cy="268.1" r="3.42"/>
<circle cx="558.9" cy="272.3" r="3.42"/>
<circle cx="559.3" cy="276.5" r="3.42"/>
<circle cx="559.6" cy="280.7" r="3.42"/>
<circle cx="560.0" cy="284.9" r="3.42"/>
<circle cx="560.3" cy="289.1" r="3.42"/>
<circle cx="560.7" cy="293.2" r="3.42"/>
<circle cx="561.2" cy="297.4" r="3.42"/>
<circle cx="561.8" cy="300.8" r="3.42"/>
<circle cx="562.4" cy="304.1" r="3.42"/>
<circle cx="563.0" cy="307.5" r="3.42"/>
<circle cx="563.6" cy="311.7" r="3.42"/>
<circle cx="564.2" cy="315.8" r="3.42"/>
<circle cx="564.9" cy="320.0" r="3.42"/>
<circle cx="565.5" cy="322.4" r="3.42"/>
<circle cx="566.1" cy="324.8" r="3.42"/>
<circle cx="566.7" cy="327.2" r="3.42"/>
<circle cx="567.3" cy="329.7" r="3.42"/>
<circle cx="567.9" cy="333.2" r="3.42"/>
<circle cx="568.5" cy="336.8" r="3.42"/>
<circle cx="568.8" cy="338.8" r="3.42"/>
<circle cx="568.8" cy="338.8" r="3.42"/>
<circle cx="569.4" cy="335.4" r="3.42"/>
<circle cx="570.0" cy="332.0" r="3.42"/>
<circle cx="570.3" cy="328.6" r="3.42"/>
<circle cx="571.4" cy="322.7" r="3.42"/>
<circle cx="572.0" cy="320.3" r="3.42"/>
<circle cx="572.2" cy="317.9" r="3.42"/>
<circle cx="572.2" cy="310.9" r="3.42"/>
<circle cx="572.2" cy="303.9" r="3.42"/>
<circle cx="572.3" cy="289.9" r="3.42"/>
<circle cx="572.9" cy="282.7" r="3.42"/>
<circle cx="573.5" cy="275.4" r="3.42"/>
<circle cx="574.1" cy="268.2" r="3.42"/>
<circle cx="574.9" cy="262.3" r="3.42"/>
<circle cx="575.5" cy="259.0" r="3.42"/>
<circle cx="575.6" cy="255.7" r="3.42"/>
<circle cx="576.2" cy="244.2" r="3.42"/>
<circle cx="576.8" cy="235.7" r="3.42"/>
<circle cx="577.2" cy="227.3" r="3.42"/>
<circle cx="577.7" cy="214.8" r="3.42"/>
<circle cx="578.2" cy="211.3" r="3.42"/>
<circle cx="578.6" cy="202.3" r="3.42"/>
<circle cx="579.1" cy="193.3" r="3.42"/>
<circle cx="579.7" cy="188.0" r="3.42"/>
<circle cx="580.4" cy="182.7" r="3.42"/>
<circle cx="581.0" cy="179.3" r="3.42"/>
<circle cx="581.4" cy="177.2" r="3.42"/>
<circle cx="581.4" cy="177.2" r="3.42"/>
<circle cx="582.0" cy="177.8" r="3.42"/>
<circle cx="582.6" cy="178.4" r="3.42"/>
<circle cx="583.2" cy="178.9" r="3.42"/>
<circle cx="583.8" cy="179.5" r="3.42"/>
<circle cx="584.4" cy="180.1" r="3.42"/>
<circle cx="584.9" cy="180.7" r="3.42"/>
<circle cx="585.5" cy="181.7" r="3.42"/>
<circle cx="586.1" cy="182.6" r="3.42"/>
<circle cx="586.7" cy="183.6" r="3.42"/>
<circle cx="587.4" cy="184.5" r="3.42"/>
<circle cx="588.0" cy="185.4" r="3.42"/>
<circle cx="588.6" cy="186.3" r="3.42"/>
<circle cx="589.2" cy="187.2" r="3.42"/>
<circle cx="589.8" cy="188.1" r="3.42"/>
<circle cx="589.9" cy="189.1" r="3.42"/>
<circle cx="590.5" cy="194.2" r="3.42"/>
<circle cx="590.9" cy="199.3" r="3.42"/>
<circle cx="591.3" cy="206.2" r="3.42"/>
<circle cx="591.5" cy="213.2" r="3.42"/>
<circle cx="591.5" cy="221.7" r="3.42"/>
<circle cx="591.9" cy="231.7" r="3.42"/>
<circle cx="592.5" cy="237.0" r="3.42"/>
<circle cx="593.1" cy="242.4" r="3.42"/>
<circle cx="594.1" cy="247.6" r="3.42"/>
<circle cx="594.7" cy="250.6" r="3.42"/>
<circle cx="595.0" cy="253.7" r="3.42"/>
<circle cx="595.6" cy="263.7" r="3.42"/>
<circle cx="596.3" cy="273.8" r="3.42"/>
<circle cx="596.8" cy="280.3" r="3.42"/>
<circle cx="597.4" cy="289.7" r="3.42"/>
<circle cx="599.1" cy="299.0" r="3.42"/>
<circle cx="599.7" cy="302.2" r="3.42"/>
<circle cx="600.4" cy="305.4" r="3.42"/>
<circle cx="601.0" cy="307.8" r="3.42"/>
<circle cx="601.6" cy="310.1" r="3.42"/>
<circle cx="602.2" cy="312.4" r="3.42"/>
<circle cx="602.9" cy="314.7" r="3.42"/>
<circle cx="603.5" cy="316.5" r="3.42"/>
<circle cx="604.1" cy="318.4" r="3.42"/>
<circle cx="604.7" cy="320.2" r="3.42"/>
<circle cx="605.0" cy="321.2" r="3.42"/>
<circle cx="605.0" cy="321.2" r="3.42"/>
<circle cx="605.5" cy="315.2" r="3.42"/>
<circle cx="606.0" cy="309.2" r="3.42"/>
<circle cx="606.6" cy="304.7" r="3.42"/>
<circle cx="606.7" cy="300.1" r="3.42"/>
<circle cx="606.9" cy="289.2" r="3.42"/>
<circle cx="607.5" cy="277.2" r="3.42"/>
<circle cx="607.5" cy="260.2" r="3.42"/>
<circle cx="608.1" cy="250.1" r="3.42"/>
<circle cx="608.9" cy="240.0" r="3.42"/>
<circle cx="609.3" cy="234.0" r="3.42"/>
<circle cx="609.5" cy="228.0" r="3.42"/>
<circle cx="610.0" cy="222.1" r="3.42"/>
<circle cx="610.5" cy="216.1" r="3.42"/>
<circle cx="611.1" cy="210.3" r="3.42"/>
<circle cx="611.7" cy="203.8" r="3.42"/>
<circle cx="612.1" cy="199.9" r="3.42"/>
<circle cx="612.1" cy="183.9" r="3.42"/>
<circle cx="612.7" cy="183.2" r="3.42"/>
<circle cx="613.3" cy="182.6" r="3.42"/>
<circle cx="613.9" cy="181.9" r="3.42"/>
<circle cx="614.5" cy="181.3" r="3.42"/>
<circle cx="615.1" cy="180.6" r="3.42"/>
<circle cx="615.7" cy="180.0" r="3.42"/>
<circle cx="616.3" cy="179.3" r="3.42"/>
<circle cx="616.8" cy="178.7" r="3.42"/>
<circle cx="616.2" cy="176.9" r="3.42"/>
<circle cx="615.6" cy="175.1" r="3.42"/>
<circle cx="615.0" cy="173.3" r="3.42"/>
<circle cx="614.4" cy="171.5" r="3.42"/>
<circle cx="614.4" cy="169.6" r="3.42"/>
<circle cx="615.0" cy="162.1" r="3.42"/>
<circle cx="615.7" cy="155.0" r="3.42"/>
<circle cx="616.3" cy="150.7" r="3.42"/>
<circle cx="616.9" cy="146.4" r="3.42"/>
<circle cx="617.6" cy="141.8" r="3.42"/>
<circle cx="654.3" cy="188.2" r="3.42"/>
<circle cx="654.2" cy="176.2" r="3.42"/>
<circle cx="654.3" cy="171.7" r="3.42"/>
<circle cx="654.9" cy="166.8" r="3.42"/>
<circle cx="655.3" cy="161.8" r="3.42"/>
<circle cx="656.1" cy="150.8" r="3.42"/>
<circle cx="656.9" cy="143.9" r="3.42"/>
<circle cx="657.5" cy="140.4" r="3.42"/>
<circle cx="659.2" cy="141.9" r="3.42"/>
<circle cx="659.8" cy="142.7" r="3.42"/>
<circle cx="660.3" cy="143.7" r="3.42"/>
<circle cx="660.9" cy="145.2" r="3.42"/>
<circle cx="661.5" cy="146.8" r="3.42"/>
<circle cx="662.1" cy="148.3" r="3.42"/>
<circle cx="662.6" cy="149.9" r="3.42"/>
<circle cx="663.2" cy="152.3" r="3.42"/>
<circle cx="663.8" cy="154.6" r="3.42"/>
<circle cx="664.4" cy="157.0" r="3.42"/>
<circle cx="665.0" cy="159.4" r="3.42"/>
<circle cx="665.6" cy="161.7" r="3.42"/>
<circle cx="665.9" cy="164.1" r="3.42"/>
<circle cx="665.3" cy="171.0" r="3.42"/>
<circle cx="665.2" cy="178.0" r="3.42"/>
<circle cx="665.2" cy="181.8" r="3.42"/>
<circle cx="681.2" cy="215.5" r="3.42"/>
<circle cx="681.8" cy="214.4" r="3.42"/>
<circle cx="682.2" cy="213.2" r="3.42"/>
<circle cx="682.8" cy="209.4" r="3.42"/>
<circle cx="683.4" cy="205.6" r="3.42"/>
<circle cx="684.0" cy="201.8" r="3.42"/>
<circle cx="684.6" cy="197.6" r="3.42"/>
<circle cx="685.2" cy="193.5" r="3.42"/>
<circle cx="685.8" cy="189.3" r="3.42"/>
<circle cx="686.4" cy="185.2" r="3.42"/>
<circle cx="687.0" cy="181.0" r="3.42"/>
<circle cx="687.1" cy="176.8" r="3.42"/>
<circle cx="687.1" cy="172.6" r="3.42"/>
<circle cx="687.7" cy="168.5" r="3.42"/>
<circle cx="688.2" cy="164.3" r="3.42"/>
<circle cx="688.8" cy="160.1" r="3.42"/>
<circle cx="689.3" cy="156.0" r="3.42"/>
<circle cx="689.8" cy="151.8" r="3.42"/>
<circle cx="690.3" cy="147.6" r="3.42"/>
<circle cx="690.8" cy="143.4" r="3.42"/>
<circle cx="691.3" cy="139.3" r="3.42"/>
<circle cx="691.8" cy="135.1" r="3.42"/>
<circle cx="692.3" cy="130.9" r="3.42"/>
<circle cx="692.8" cy="126.8" r="3.42"/>
<circle cx="693.4" cy="123.4" r="3.42"/>
<circle cx="694.0" cy="120.1" r="3.42"/>
<circle cx="694.6" cy="116.8" r="3.42"/>
<circle cx="695.6" cy="113.5" r="3.42"/>
<circle cx="696.2" cy="112.0" r="3.42"/>
<circle cx="697.0" cy="110.6" r="3.42"/>
<circle cx="697.6" cy="109.9" r="3.42"/>
<circle cx="698.1" cy="109.4" r="3.42"/>
<circle cx="698.1" cy="109.4" r="3.42"/>
<circle cx="698.7" cy="110.4" r="3.42"/>
<circle cx="699.3" cy="111.4" r="3.42"/>
<circle cx="699.9" cy="112.3" r="3.42"/>
<circle cx="700.4" cy="113.4" r="3.42"/>
<circle cx="701.0" cy="115.3" r="3.42"/>
<circle cx="701.6" cy="117.3" r="3.42"/>
<circle cx="702.2" cy="119.3" r="3.42"/>
<circle cx="702.7" cy="121.4" r="3.42"/>
<circle cx="703.3" cy="125.4" r="3.42"/>
<circle cx="703.9" cy="129.5" r="3.42"/>
<circle cx="704.5" cy="133.6" r="3.42"/>
<circle cx="705.1" cy="137.7" r="3.42"/>
<circle cx="705.8" cy="141.8" r="3.42"/>
<circle cx="706.4" cy="144.3" r="3.42"/>
<circle cx="707.0" cy="146.8" r="3.42"/>
<circle cx="707.6" cy="149.4" r="3.42"/>
<circle cx="708.2" cy="151.9" r="3.42"/>
<circle cx="708.8" cy="154.4" r="3.42"/>
<circle cx="709.4" cy="156.9" r="3.42"/>
<circle cx="710.0" cy="159.5" r="3.42"/>
<circle cx="710.4" cy="162.0" r="3.42"/>
<circle cx="711.0" cy="166.2" r="3.42"/>
<circle cx="711.6" cy="170.3" r="3.42"/>
<circle cx="712.1" cy="174.5" r="3.42"/>
<circle cx="712.6" cy="178.7" r="3.42"/>
<circle cx="713.1" cy="182.8" r="3.42"/>
<circle cx="713.7" cy="187.0" r="3.42"/>
<circle cx="714.3" cy="191.1" r="3.42"/>
<circle cx="714.9" cy="195.3" r="3.42"/>
<circle cx="715.5" cy="198.5" r="3.42"/>
<circle cx="716.1" cy="201.7" r="3.42"/>
<circle cx="716.7" cy="205.0" r="3.42"/>
<circle cx="717.3" cy="208.2" r="3.42"/>
<circle cx="717.9" cy="211.4" r="3.42"/>
<circle cx="718.5" cy="215.0" r="3.42"/>
<circle cx="719.1" cy="218.8" r="3.42"/>
<circle cx="719.1" cy="218.8" r="3.42"/>
<circle cx="719.7" cy="216.4" r="3.42"/>
<circle cx="720.3" cy="214.1" r="3.42"/>
<circle cx="720.9" cy="211.7" r="3.42"/>
<circle cx="721.5" cy="208.7" r="3.42"/>
<circle cx="722.1" cy="205.8" r="3.42"/>
<circle cx="722.6" cy="202.8" r="3.42"/>
<circle cx="723.2" cy="198.6" r="3.42"/>
<circle cx="723.8" cy="194.5" r="3.42"/>
<circle cx="724.4" cy="190.3" r="3.42"/>
<circle cx="725.0" cy="186.2" r="3.42"/>
<circle cx="725.5" cy="182.0" r="3.42"/>
<circle cx="725.8" cy="177.8" r="3.42"/>
<circle cx="725.8" cy="173.6" r="3.42"/>
<circle cx="726.3" cy="169.5" r="3.42"/>
<circle cx="726.9" cy="165.7" r="3.42"/>
<circle cx="727.5" cy="161.9" r="3.42"/>
<circle cx="728.1" cy="158.1" r="3.42"/>
<circle cx="728.7" cy="154.3" r="3.42"/>
<circle cx="729.2" cy="150.5" r="3.42"/>
<circle cx="729.8" cy="146.3" r="3.42"/>
<circle cx="730.3" cy="142.1" r="3.42"/>
<circle cx="730.8" cy="138.0" r="3.42"/>
<circle cx="731.4" cy="133.8" r="3.42"/>
<circle cx="731.9" cy="129.6" r="3.42"/>
<circle cx="732.4" cy="125.5" r="3.42"/>
<circle cx="733.1" cy="121.3" r="3.42"/>
<circle cx="733.7" cy="118.8" r="3.42"/>
<circle cx="734.3" cy="116.3" r="3.42"/>
<circle cx="735.2" cy="113.9" r="3.42"/>
<circle cx="735.9" cy="112.7" r="3.42"/>
<circle cx="735.9" cy="112.7" r="3.42"/>
<circle cx="736.5" cy="113.5" r="3.42"/>
<circle cx="737.1" cy="114.3" r="3.42"/>
<circle cx="737.7" cy="115.2" r="3.42"/>
<circle cx="738.3" cy="116.0" r="3.42"/>
<circle cx="738.7" cy="116.9" r="3.42"/>
<circle cx="739.3" cy="118.6" r="3.42"/>
<circle cx="739.9" cy="120.2" r="3.42"/>
<circle cx="740.5" cy="121.9" r="3.42"/>
<circle cx="740.8" cy="123.6" r="3.42"/>
<circle cx="741.4" cy="126.9" r="3.42"/>
<circle cx="742.0" cy="130.2" r="3.42"/>
<circle cx="742.6" cy="133.5" r="3.42"/>
<circle cx="743.2" cy="136.8" r="3.42"/>
<circle cx="743.8" cy="140.1" r="3.42"/>
<circle cx="744.4" cy="143.1" r="3.42"/>
<circle cx="745.0" cy="146.2" r="3.42"/>
<circle cx="745.6" cy="149.3" r="3.42"/>
<circle cx="746.2" cy="152.3" r="3.42"/>
<circle cx="745.6" cy="156.5" r="3.42"/>
<circle cx="745.1" cy="160.7" r="3.42"/>
<circle cx="745.9" cy="164.6" r="3.42"/>
<circle cx="746.5" cy="165.7" r="3.42"/>
<circle cx="747.1" cy="166.9" r="3.42"/>
<circle cx="747.5" cy="167.5" r="3.42"/>
<circle cx="747.7" cy="187.7" r="3.42"/>
<circle cx="747.7" cy="194.7" r="3.42"/>
<circle cx="749.0" cy="201.6" r="3.42"/>
<circle cx="749.5" cy="204.5" r="3.42"/>
<circle cx="750.1" cy="208.1" r="3.42"/>
<circle cx="750.7" cy="211.7" r="3.42"/>
<circle cx="751.2" cy="215.3" r="3.42"/>
<circle cx="751.6" cy="219.4" r="3.42"/>
<circle cx="752.0" cy="223.6" r="3.42"/>
<circle cx="752.5" cy="227.8" r="3.42"/>
<circle cx="753.1" cy="231.9" r="3.42"/>
<circle cx="753.7" cy="236.1" r="3.42"/>
<circle cx="754.3" cy="240.3" r="3.42"/>
<circle cx="754.9" cy="244.4" r="3.42"/>
<circle cx="755.3" cy="247.5" r="3.42"/>
<circle cx="755.3" cy="247.5" r="3.42"/>
<circle cx="755.6" cy="243.3" r="3.42"/>
<circle cx="755.8" cy="239.1" r="3.42"/>
<circle cx="756.1" cy="234.9" r="3.42"/>
<circle cx="756.5" cy="230.7" r="3.42"/>
<circle cx="756.9" cy="226.6" r="3.42"/>
<circle cx="757.8" cy="222.5" r="3.42"/>
<circle cx="758.4" cy="220.1" r="3.42"/>
<circle cx="758.9" cy="217.7" r="3.42"/>
<circle cx="759.5" cy="214.7" r="3.42"/>
<circle cx="760.1" cy="211.8" r="3.42"/>
<circle cx="760.7" cy="209.1" r="3.42"/>
<circle cx="761.2" cy="207.0" r="3.42"/>
<circle cx="760.4" cy="191.9" r="3.42"/>
<circle cx="761.0" cy="188.1" r="3.42"/>
<circle cx="761.8" cy="184.3" r="3.42"/>
<circle cx="762.4" cy="181.9" r="3.42"/>
<circle cx="763.0" cy="179.6" r="3.42"/>
<circle cx="763.4" cy="175.4" r="3.42"/>
<circle cx="763.8" cy="171.2" r="3.42"/>
<circle cx="763.8" cy="167.0" r="3.42"/>
<circle cx="763.9" cy="162.8" r="3.42"/>
<circle cx="764.0" cy="158.6" r="3.42"/>
<circle cx="764.1" cy="154.4" r="3.42"/>
<circle cx="764.7" cy="150.2" r="3.42"/>
<circle cx="765.3" cy="146.4" r="3.42"/>
<circle cx="765.9" cy="142.7" r="3.42"/>
<circle cx="766.5" cy="138.9" r="3.42"/>
<circle cx="767.1" cy="135.1" r="3.42"/>
<circle cx="767.6" cy="130.9" r="3.42"/>
<circle cx="768.2" cy="126.7" r="3.42"/>
<circle cx="768.8" cy="122.6" r="3.42"/>
<circle cx="769.4" cy="118.4" r="3.42"/>
<circle cx="770.0" cy="115.1" r="3.42"/>
<circle cx="770.6" cy="111.8" r="3.42"/>
<circle cx="771.2" cy="108.4" r="3.42"/>
<circle cx="772.0" cy="105.1" r="3.42"/>
<circle cx="772.6" cy="103.2" r="3.42"/>
<circle cx="773.2" cy="101.3" r="3.42"/>
<circle cx="773.5" cy="100.4" r="3.42"/>
<circle cx="773.5" cy="100.4" r="3.42"/>
<circle cx="774.1" cy="101.2" r="3.42"/>
<circle cx="774.7" cy="102.0" r="3.42"/>
<circle cx="775.3" cy="102.8" r="3.42"/>
<circle cx="775.9" cy="103.6" r="3.42"/>
<circle cx="776.5" cy="105.2" r="3.42"/>
<circle cx="777.1" cy="106.8" r="3.42"/>
<circle cx="777.7" cy="108.4" r="3.42"/>
<circle cx="778.3" cy="110.0" r="3.42"/>
<circle cx="778.7" cy="111.7" r="3.42"/>
<circle cx="779.3" cy="114.6" r="3.42"/>
<circle cx="779.9" cy="117.6" r="3.42"/>
<circle cx="780.5" cy="120.5" r="3.42"/>
<circle cx="781.1" cy="123.5" r="3.42"/>
<circle cx="781.7" cy="126.5" r="3.42"/>
<circle cx="782.3" cy="129.4" r="3.42"/>
<circle cx="782.9" cy="132.2" r="3.42"/>
<circle cx="783.5" cy="135.0" r="3.42"/>
<circle cx="784.1" cy="137.8" r="3.42"/>
<circle cx="784.7" cy="140.6" r="3.42"/>
<circle cx="785.3" cy="143.4" r="3.42"/>
<circle cx="785.9" cy="146.5" r="3.42"/>
<circle cx="786.5" cy="149.5" r="3.42"/>
<circle cx="787.1" cy="152.6" r="3.42"/>
<circle cx="787.7" cy="155.6" r="3.42"/>
<circle cx="788.3" cy="158.7" r="3.42"/>
<circle cx="788.9" cy="161.7" r="3.42"/>
<circle cx="789.5" cy="165.0" r="3.42"/>
<circle cx="790.1" cy="168.3" r="3.42"/>
<circle cx="790.7" cy="171.5" r="3.42"/>
<circle cx="791.1" cy="174.8" r="3.42"/>
<circle cx="791.5" cy="179.0" r="3.42"/>
<circle cx="791.8" cy="183.2" r="3.42"/>
<circle cx="792.2" cy="187.4" r="3.42"/>
<circle cx="792.6" cy="191.5" r="3.42"/>
<circle cx="793.3" cy="195.7" r="3.42"/>
<circle cx="793.9" cy="199.2" r="3.42"/>
<circle cx="794.5" cy="202.7" r="3.42"/>
<circle cx="795.1" cy="206.1" r="3.42"/>
<circle cx="795.6" cy="209.6" r="3.42"/>
<circle cx="796.2" cy="213.5" r="3.42"/>
<circle cx="796.8" cy="217.2" r="3.42"/>
<circle cx="796.8" cy="217.2" r="3.42"/>
<circle cx="797.4" cy="215.2" r="3.42"/>
<circle cx="798.0" cy="213.3" r="3.42"/>
<circle cx="798.6" cy="211.3" r="3.42"/>
<circle cx="799.2" cy="209.4" r="3.42"/>
<circle cx="799.6" cy="207.3" r="3.42"/>
<circle cx="800.2" cy="202.3" r="3.42"/>
<circle cx="800.8" cy="197.3" r="3.42"/>
<circle cx="801.2" cy="192.3" r="3.42"/>
<circle cx="801.7" cy="185.3" r="3.42"/>
<circle cx="802.2" cy="175.3" r="3.42"/>
<circle cx="802.2" cy="171.1" r="3.42"/>
<circle cx="802.8" cy="167.4" r="3.42"/>
<circle cx="803.4" cy="163.7" r="3.42"/>
<circle cx="804.0" cy="160.0" r="3.42"/>
<circle cx="804.6" cy="155.8" r="3.42"/>
<circle cx="805.2" cy="151.7" r="3.42"/>
<circle cx="805.8" cy="147.5" r="3.42"/>
<circle cx="806.3" cy="143.3" r="3.42"/>
<circle cx="806.8" cy="139.2" r="3.42"/>
<circle cx="807.3" cy="135.0" r="3.42"/>
<circle cx="807.9" cy="130.8" r="3.42"/>
<circle cx="808.5" cy="126.7" r="3.42"/>
<circle cx="809.1" cy="122.5" r="3.42"/>
<circle cx="809.7" cy="119.7" r="3.42"/>
<circle cx="810.6" cy="117.0" r="3.42"/>
<circle cx="811.2" cy="115.9" r="3.42"/>
<circle cx="811.5" cy="115.3" r="3.42"/>
<circle cx="811.5" cy="115.3" r="3.42"/>
<circle cx="812.1" cy="116.1" r="3.42"/>
<circle cx="812.7" cy="117.0" r="3.42"/>
<circle cx="813.3" cy="117.8" r="3.42"/>
<circle cx="813.9" cy="118.6" r="3.42"/>
<circle cx="814.5" cy="120.2" r="3.42"/>
<circle cx="815.1" cy="121.9" r="3.42"/>
<circle cx="815.7" cy="123.5" r="3.42"/>
<circle cx="816.0" cy="125.2" r="3.42"/>
<circle cx="816.6" cy="128.8" r="3.42"/>
<circle cx="817.2" cy="132.3" r="3.42"/>
<circle cx="817.8" cy="135.9" r="3.42"/>
<circle cx="818.4" cy="139.5" r="3.42"/>
<circle cx="819.2" cy="143.0" r="3.42"/>
<circle cx="819.8" cy="145.5" r="3.42"/>
<circle cx="820.4" cy="148.1" r="3.42"/>
<circle cx="821.0" cy="150.6" r="3.42"/>
<circle cx="821.6" cy="153.1" r="3.42"/>
<circle cx="822.2" cy="155.6" r="3.42"/>
<circle cx="822.8" cy="158.2" r="3.42"/>
<circle cx="823.4" cy="160.7" r="3.42"/>
<circle cx="823.7" cy="163.2" r="3.42"/>
<circle cx="824.2" cy="167.4" r="3.42"/>
<circle cx="824.8" cy="171.6" r="3.42"/>
<circle cx="825.4" cy="175.7" r="3.42"/>
<circle cx="826.0" cy="179.4" r="3.42"/>
<circle cx="826.6" cy="183.1" r="3.42"/>
<circle cx="827.2" cy="186.8" r="3.42"/>
<circle cx="827.8" cy="190.6" r="3.42"/>
<circle cx="828.4" cy="194.3" r="3.42"/>
<circle cx="829.0" cy="197.8" r="3.42"/>
<circle cx="829.6" cy="201.4" r="3.42"/>
<circle cx="830.2" cy="205.0" r="3.42"/>
<circle cx="830.8" cy="208.5" r="3.42"/>
<circle cx="831.4" cy="212.1" r="3.42"/>
<circle cx="832.1" cy="215.6" r="3.42"/>
<circle cx="832.7" cy="218.7" r="3.42"/>
<circle cx="833.3" cy="221.7" r="3.42"/>
<circle cx="833.9" cy="224.8" r="3.42"/>
<circle cx="834.5" cy="227.8" r="3.42"/>
<circle cx="835.1" cy="230.9" r="3.42"/>
<circle cx="835.7" cy="233.6" r="3.42"/>
<circle cx="836.4" cy="236.5" r="3.42"/>
<circle cx="836.4" cy="236.5" r="3.42"/>
<circle cx="836.8" cy="232.3" r="3.42"/>
<circle cx="837.3" cy="228.1" r="3.42"/>
<circle cx="837.7" cy="224.0" r="3.42"/>
<circle cx="838.2" cy="219.8" r="3.42"/>
<circle cx="838.5" cy="215.6" r="3.42"/>
<circle cx="838.8" cy="211.4" r="3.42"/>
<circle cx="839.3" cy="207.2" r="3.42"/>
<circle cx="839.8" cy="203.1" r="3.42"/>
<circle cx="840.4" cy="198.9" r="3.42"/>
<circle cx="840.8" cy="194.7" r="3.42"/>
<circle cx="841.2" cy="190.6" r="3.42"/>
<circle cx="841.5" cy="186.4" r="3.42"/>
<circle cx="841.8" cy="182.2" r="3.42"/>
<circle cx="842.0" cy="178.0" r="3.42"/>
<circle cx="842.3" cy="173.8" r="3.42"/>
<circle cx="842.8" cy="169.6" r="3.42"/>
<circle cx="843.3" cy="165.5" r="3.42"/>
<circle cx="843.8" cy="161.3" r="3.42"/>
<circle cx="844.3" cy="157.1" r="3.42"/>
<circle cx="844.9" cy="153.0" r="3.42"/>
<circle cx="845.5" cy="148.8" r="3.42"/>
<circle cx="846.1" cy="144.6" r="3.42"/>
<circle cx="846.7" cy="140.5" r="3.42"/>
<circle cx="847.2" cy="136.3" r="3.42"/>
<circle cx="847.7" cy="132.1" r="3.42"/>
<circle cx="848.4" cy="128.0" r="3.42"/>
<circle cx="849.1" cy="124.4" r="3.42"/>
<circle cx="849.7" cy="122.6" r="3.42"/>
<circle cx="850.2" cy="121.2" r="3.42"/>
<circle cx="850.2" cy="121.2" r="3.42"/>
<circle cx="850.8" cy="122.0" r="3.42"/>
<circle cx="851.4" cy="122.8" r="3.42"/>
<circle cx="852.0" cy="123.5" r="3.42"/>
<circle cx="852.5" cy="124.4" r="3.42"/>
<circle cx="853.1" cy="125.7" r="3.42"/>
<circle cx="853.7" cy="127.0" r="3.42"/>
<circle cx="854.3" cy="128.3" r="3.42"/>
<circle cx="854.7" cy="129.7" r="3.42"/>
<circle cx="855.3" cy="132.5" r="3.42"/>
<circle cx="855.9" cy="135.4" r="3.42"/>
<circle cx="856.5" cy="138.2" r="3.42"/>
<circle cx="857.1" cy="141.0" r="3.42"/>
<circle cx="857.8" cy="143.8" r="3.42"/>
<circle cx="858.4" cy="146.2" r="3.42"/>
<circle cx="859.0" cy="148.6" r="3.42"/>
<circle cx="859.6" cy="151.0" r="3.42"/>
<circle cx="860.2" cy="153.4" r="3.42"/>
<circle cx="860.8" cy="155.8" r="3.42"/>
<circle cx="861.3" cy="158.2" r="3.42"/>
<circle cx="861.9" cy="161.6" r="3.42"/>
<circle cx="862.5" cy="164.9" r="3.42"/>
<circle cx="863.1" cy="168.3" r="3.42"/>
<circle cx="863.7" cy="171.7" r="3.42"/>
<circle cx="864.2" cy="175.1" r="3.42"/>
<circle cx="864.6" cy="179.3" r="3.42"/>
<circle cx="865.0" cy="183.5" r="3.42"/>
<circle cx="865.5" cy="187.6" r="3.42"/>
<circle cx="865.9" cy="191.8" r="3.42"/>
<circle cx="866.6" cy="195.9" r="3.42"/>
<circle cx="867.2" cy="199.2" r="3.42"/>
<circle cx="867.8" cy="202.5" r="3.42"/>
<circle cx="868.4" cy="205.7" r="3.42"/>
<circle cx="869.0" cy="209.0" r="3.42"/>
<circle cx="869.7" cy="212.3" r="3.42"/>
<circle cx="870.3" cy="215.3" r="3.42"/>
<circle cx="870.9" cy="218.4" r="3.42"/>
<circle cx="871.5" cy="221.5" r="3.42"/>
<circle cx="872.1" cy="224.6" r="3.42"/>
<circle cx="872.7" cy="227.6" r="3.42"/>
<circle cx="873.3" cy="230.9" r="3.42"/>
<circle cx="873.9" cy="234.1" r="3.42"/>
<circle cx="874.3" cy="236.5" r="3.42"/>
<circle cx="874.3" cy="236.5" r="3.42"/>
<circle cx="874.9" cy="233.1" r="3.42"/>
<circle cx="875.5" cy="229.6" r="3.42"/>
<circle cx="876.1" cy="226.2" r="3.42"/>
<circle cx="876.7" cy="222.8" r="3.42"/>
<circle cx="877.1" cy="219.3" r="3.42"/>
<circle cx="877.6" cy="215.1" r="3.42"/>
<circle cx="878.1" cy="211.0" r="3.42"/>
<circle cx="878.5" cy="206.8" r="3.42"/>
<circle cx="878.8" cy="202.6" r="3.42"/>
<circle cx="879.2" cy="198.4" r="3.42"/>
<circle cx="879.5" cy="194.2" r="3.42"/>
<circle cx="879.8" cy="190.0" r="3.42"/>
<circle cx="880.1" cy="185.9" r="3.42"/>
<circle cx="880.5" cy="181.7" r="3.42"/>
<circle cx="880.8" cy="177.5" r="3.42"/>
<circle cx="881.1" cy="173.3" r="3.42"/>
<circle cx="881.5" cy="169.1" r="3.42"/>
<circle cx="882.0" cy="164.9" r="3.42"/>
<circle cx="882.5" cy="160.8" r="3.42"/>
<circle cx="883.0" cy="156.6" r="3.42"/>
<circle cx="883.8" cy="152.5" r="3.42"/>
<circle cx="884.4" cy="149.4" r="3.42"/>
<circle cx="884.9" cy="146.3" r="3.42"/>
<circle cx="885.3" cy="142.1" r="3.42"/>
<circle cx="885.6" cy="135.5" r="3.42"/>
<circle cx="885.7" cy="131.3" r="3.42"/>
<circle cx="886.0" cy="127.1" r="3.42"/>
<circle cx="886.5" cy="122.9" r="3.42"/>
<circle cx="887.1" cy="120.2" r="3.42"/>
<circle cx="887.7" cy="117.5" r="3.42"/>
<circle cx="889.9" cy="117.3" r="3.42"/>
<circle cx="890.5" cy="117.5" r="3.42"/>
<circle cx="891.1" cy="117.6" r="3.42"/>
<circle cx="891.7" cy="117.7" r="3.42"/>
<circle cx="892.0" cy="117.8" r="3.42"/>
<circle cx="892.0" cy="117.8" r="3.42"/>
<circle cx="892.6" cy="118.9" r="3.42"/>
<circle cx="893.2" cy="119.9" r="3.42"/>
<circle cx="893.8" cy="121.0" r="3.42"/>
<circle cx="894.2" cy="122.1" r="3.42"/>
<circle cx="894.8" cy="124.1" r="3.42"/>
<circle cx="895.4" cy="126.0" r="3.42"/>
<circle cx="895.8" cy="128.0" r="3.42"/>
<circle cx="896.4" cy="131.7" r="3.42"/>
<circle cx="897.0" cy="135.4" r="3.42"/>
<circle cx="897.6" cy="139.0" r="3.42"/>
<circle cx="898.2" cy="142.7" r="3.42"/>
<circle cx="898.9" cy="146.4" r="3.42"/>
<circle cx="899.5" cy="149.0" r="3.42"/>
<circle cx="900.1" cy="151.7" r="3.42"/>
<circle cx="900.7" cy="154.3" r="3.42"/>
<circle cx="901.3" cy="157.0" r="3.42"/>
<circle cx="901.9" cy="159.6" r="3.42"/>
<circle cx="902.5" cy="162.3" r="3.42"/>
<circle cx="902.8" cy="164.9" r="3.42"/>
<circle cx="903.3" cy="169.1" r="3.42"/>
<circle cx="903.8" cy="173.3" r="3.42"/>
<circle cx="904.3" cy="177.5" r="3.42"/>
<circle cx="904.9" cy="181.6" r="3.42"/>
<circle cx="905.5" cy="185.8" r="3.42"/>
<circle cx="906.0" cy="189.9" r="3.42"/>
<circle cx="906.7" cy="194.1" r="3.42"/>
<circle cx="907.3" cy="197.4" r="3.42"/>
<circle cx="907.9" cy="200.6" r="3.42"/>
<circle cx="908.5" cy="203.9" r="3.42"/>
<circle cx="909.1" cy="207.1" r="3.42"/>
<circle cx="909.7" cy="210.4" r="3.42"/>
<circle cx="910.3" cy="213.4" r="3.42"/>
<circle cx="910.9" cy="216.5" r="3.42"/>
<circle cx="911.5" cy="219.5" r="3.42"/>
<circle cx="912.1" cy="222.5" r="3.42"/>
<circle cx="912.7" cy="224.8" r="3.42"/>
<circle cx="913.4" cy="227.3" r="3.42"/>
<circle cx="913.4" cy="227.3" r="3.42"/>
<circle cx="913.9" cy="223.1" r="3.42"/>
<circle cx="914.5" cy="219.0" r="3.42"/>
<circle cx="915.0" cy="214.8" r="3.42"/>
<circle cx="915.6" cy="210.6" r="3.42"/>
<circle cx="915.9" cy="206.5" r="3.42"/>
<circle cx="916.2" cy="202.3" r="3.42"/>
<circle cx="916.5" cy="198.1" r="3.42"/>
<circle cx="917.0" cy="193.9" r="3.42"/>
<circle cx="917.5" cy="189.7" r="3.42"/>
<circle cx="917.9" cy="185.6" r="3.42"/>
<circle cx="918.3" cy="181.4" r="3.42"/>
<circle cx="918.7" cy="177.2" r="3.42"/>
<circle cx="919.0" cy="173.0" r="3.42"/>
<circle cx="918.6" cy="168.8" r="3.42"/>
<circle cx="919.2" cy="165.4" r="3.42"/>
<circle cx="919.8" cy="162.0" r="3.42"/>
<circle cx="920.4" cy="158.5" r="3.42"/>
<circle cx="921.0" cy="155.0" r="3.42"/>
<circle cx="921.3" cy="151.4" r="3.42"/>
<circle cx="921.5" cy="144.2" r="3.42"/>
</g>
<g stroke="#000" stroke-width="1" fill="none" shape-rendering="crispEdges">
<line x1="67.5" y1="38" x2="67.5" y2="457.5"/>
<line x1="67" y1="457" x2="499" y2="457"/>
<line x1="508" y1="457" x2="940" y2="457"/>
</g>
<g stroke="#333" stroke-width="1" fill="none" shape-rendering="crispEdges">
<line x1="114.5" y1="457.5" x2="114.5" y2="461"/>
<line x1="191.1" y1="457.5" x2="191.1" y2="461"/>
<line x1="267.6" y1="457.5" x2="267.6" y2="461"/>
<line x1="344.2" y1="457.5" x2="344.2" y2="461"/>
<line x1="420.7" y1="457.5" x2="420.7" y2="461"/>
<line x1="497.3" y1="457.5" x2="497.3" y2="461"/>
<line x1="555.5" y1="457.5" x2="555.5" y2="461"/>
<line x1="632.1" y1="457.5" x2="632.1" y2="461"/>
<line x1="708.6" y1="457.5" x2="708.6" y2="461"/>
<line x1="785.2" y1="457.5" x2="785.2" y2="461"/>
<line x1="861.7" y1="457.5" x2="861.7" y2="461"/>
<line x1="938.3" y1="457.5" x2="938.3" y2="461"/>
<line x1="63" y1="116.5" x2="67" y2="116.5"/>
<line x1="63" y1="230.5" x2="67" y2="230.5"/>
<line x1="63" y1="345.5" x2="67" y2="345.5"/>
</g>
<g stroke="#000" stroke-width="2" fill="#fff" shape-rendering="crispEdges">
<rect x="68" y="10" width="431" height="28"/>
<rect x="509" y="10" width="431" height="28"/>
</g>
<g font-size="14.67" fill="#1a1a1a" text-anchor="middle">
<text x="282.5" y="29.8">A</text><text x="724" y="29.8">B</text></g>
<g font-size="14.67" fill="#4d4d4d" text-anchor="middle">
<text x="113.3" y="477.8">abr 24</text>
<text x="189.9" y="477.8">abr 26</text>
<text x="266.4" y="477.8">abr 28</text>
<text x="343.0" y="477.8">abr 30</text>
<text x="420.3" y="477.8">mai 02</text>
<text x="496.9" y="477.8">mai 04</text>
<text x="554.3" y="477.8">abr 24</text>
<text x="630.9" y="477.8">abr 26</text>
<text x="707.4" y="477.8">abr 28</text>
<text x="784.0" y="477.8">abr 30</text>
<text x="861.3" y="477.8">mai 02</text>
<text x="937.9" y="477.8">mai 04</text>
</g>
<g font-size="14.67" fill="#4d4d4d" text-anchor="end">
<text x="59" y="123.0">30.0</text>
<text x="59" y="237.0">27.5</text>
<text x="59" y="352.0">25.0</text>
</g>
<text x="504" y="499" font-size="18" fill="#000" text-anchor="middle">datetime</text>
<text transform="translate(23.4,247.7) rotate(-90)" font-size="18" fill="#000" text-anchor="middle">temperature</text>
</svg></body></html>
